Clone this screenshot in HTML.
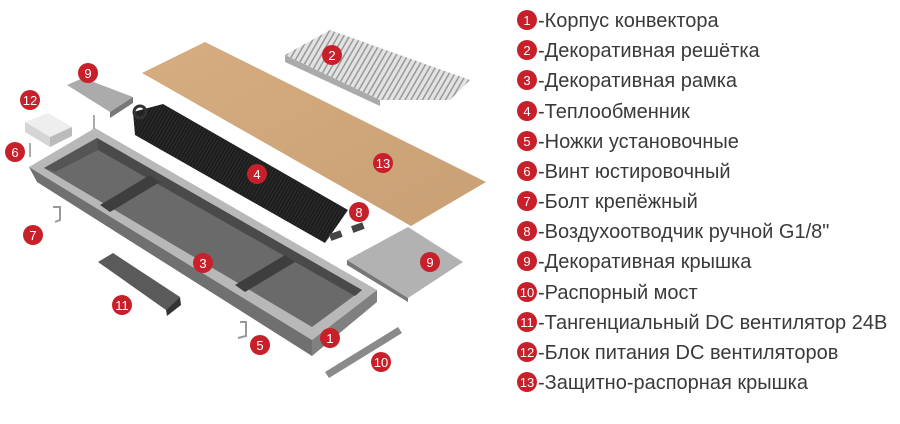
<!DOCTYPE html>
<html><head><meta charset="utf-8"><style>
html,body{margin:0;padding:0;background:#fff;width:900px;height:424px;overflow:hidden}
svg{display:block}
.b circle{fill:#c8202a}
.b text{fill:#fff;font:13px "Liberation Sans",sans-serif;text-anchor:middle}
.l text{font:20px "Liberation Sans","Noto Sans CJK SC",sans-serif;fill:#3a3a3a}
</style></head><body>
<svg width="900" height="424" viewBox="0 0 900 424">
<defs>
<linearGradient id="wood" x1="0" y1="0" x2="1" y2="1"><stop offset="0" stop-color="#d6ad80"/><stop offset="1" stop-color="#c8a075"/></linearGradient>
<pattern id="gr" width="5" height="5" patternUnits="userSpaceOnUse" patternTransform="rotate(30)"><rect width="5" height="5" fill="#e2e2e2"/><rect width="1.5" height="5" fill="#999"/></pattern>
<pattern id="fins" width="3" height="3" patternUnits="userSpaceOnUse" patternTransform="rotate(30)"><rect width="3" height="3" fill="#1c1c1c"/><rect width="1" height="3" fill="#2e2e2e"/></pattern>
</defs>
<!-- grille 2 -->
<polygon points="285,55 330,30 470,80 450,100 380,100" fill="url(#gr)"/>
<polygon points="285,55 380,100 380,106 285,62" fill="#aaa"/>
<!-- wood 13 -->
<polygon points="142,73 205,42 486,182 411,226" fill="url(#wood)"/>
<!-- cover 9 small -->
<polygon points="67,85 83,78 133,97 110,112" fill="#ababab"/>
<polygon points="110,112 133,97 133,103 110,118" fill="#777"/>
<!-- box 12 -->
<polygon points="25,122 48,113 72,127 50,137" fill="#eee"/>
<polygon points="25,122 50,137 50,147 25,132" fill="#d5d5d5"/>
<polygon points="50,137 72,127 72,136 50,147" fill="#bbb"/>
<!-- housing -->
<polygon points="29,167 95,128 377,290 312,340" fill="#b8b8b8"/>
<polygon points="29,167 312,340 312,356 37,182" fill="#707070"/>
<polygon points="312,340 377,290 377,302 312,356" fill="#808080"/>
<polygon points="44,168 97,138 362,290 312,327" fill="#6a6a6a"/>
<polygon points="97,138 362,290 355,296 98,150" fill="#4a4a4a"/>
<polygon points="44,168 97,138 98,150 55,172" fill="#555"/>
<polygon points="100,205 150,175 160,182 110,212" fill="#3e3e3e"/>
<polygon points="235,285 285,255 295,262 245,292" fill="#3e3e3e"/>
<!-- heat exchanger 4 -->
<polygon points="133,112 163,104 348,210 325,243 135,135" fill="url(#fins)"/>
<circle cx="140" cy="112" r="6" fill="none" stroke="#333" stroke-width="3"/>
<rect x="330" y="232" width="12" height="7" fill="#444" transform="rotate(-20 336 236)"/>
<rect x="352" y="224" width="12" height="7" fill="#444" transform="rotate(-20 358 228)"/>
<!-- cover 9 big -->
<polygon points="347,260 408,227 463,262 408,298" fill="#b2b2b2"/>
<polygon points="347,260 408,298 408,302 347,265" fill="#777"/>
<!-- fan 11 -->
<polygon points="98,262 113,253 180,297 166,310" fill="#5a5a5a"/>
<polygon points="166,310 180,297 181,305 167,316" fill="#333"/>
<!-- bar 10 -->
<polygon points="325,372 398,327 402,333 329,378" fill="#8a8a8a"/>
<!-- small bits -->
<rect x="93" y="115" width="2" height="14" fill="#aaa"/>
<rect x="29" y="143" width="2" height="14" fill="#aaa"/>
<polyline points="53,207 60,207 60,220 55,222" fill="none" stroke="#999" stroke-width="2"/>
<polyline points="240,322 246,322 246,336 238,338" fill="none" stroke="#999" stroke-width="2"/>
<!-- badges -->
<g class="b">
<circle cx="330" cy="338" r="10"/><text x="330" y="343">1</text>
<circle cx="332" cy="55" r="10"/><text x="332" y="60">2</text>
<circle cx="203" cy="263" r="10"/><text x="203" y="268">3</text>
<circle cx="257" cy="174" r="10"/><text x="257" y="179">4</text>
<circle cx="260" cy="345" r="10"/><text x="260" y="350">5</text>
<circle cx="15" cy="152" r="10"/><text x="15" y="157">6</text>
<circle cx="33" cy="235" r="10"/><text x="33" y="240">7</text>
<circle cx="359" cy="212" r="10"/><text x="359" y="217">8</text>
<circle cx="88" cy="73" r="10"/><text x="88" y="78">9</text>
<circle cx="430" cy="262" r="10"/><text x="430" y="267">9</text>
<circle cx="381" cy="362" r="10"/><text x="381" y="367">10</text>
<circle cx="122" cy="305" r="10"/><text x="122" y="310">11</text>
<circle cx="30" cy="100" r="10"/><text x="30" y="105">12</text>
<circle cx="383" cy="163" r="10"/><text x="383" y="168">13</text>
</g>
<!-- legend -->
<g class="b">
<circle cx="527" cy="20" r="10"/><text x="527" y="25">1</text>
<circle cx="527" cy="50" r="10"/><text x="527" y="55">2</text>
<circle cx="527" cy="80" r="10"/><text x="527" y="85">3</text>
<circle cx="527" cy="111" r="10"/><text x="527" y="116">4</text>
<circle cx="527" cy="141" r="10"/><text x="527" y="146">5</text>
<circle cx="527" cy="171" r="10"/><text x="527" y="176">6</text>
<circle cx="527" cy="201" r="10"/><text x="527" y="206">7</text>
<circle cx="527" cy="231" r="10"/><text x="527" y="236">8</text>
<circle cx="527" cy="261" r="10"/><text x="527" y="266">9</text>
<circle cx="527" cy="292" r="10"/><text x="527" y="297">10</text>
<circle cx="527" cy="322" r="10"/><text x="527" y="327">11</text>
<circle cx="527" cy="352" r="10"/><text x="527" y="357">12</text>
<circle cx="527" cy="382" r="10"/><text x="527" y="387">13</text>
</g>
<g class="l">
<text x="538" y="27">-Корпус конвектора</text>
<text x="538" y="57">-Декоративная решётка</text>
<text x="538" y="87">-Декоративная рамка</text>
<text x="538" y="118">-Теплообменник</text>
<text x="538" y="148">-Ножки установочные</text>
<text x="538" y="178">-Винт юстировочный</text>
<text x="538" y="208">-Болт крепёжный</text>
<text x="538" y="238">-Воздухоотводчик ручной G1/8"</text>
<text x="538" y="268">-Декоративная крышка</text>
<text x="538" y="299">-Распорный мост</text>
<text x="538" y="329">-Тангенциальный DC вентилятор 24В</text>
<text x="538" y="359">-Блок питания DC вентиляторов</text>
<text x="538" y="389">-Защитно-распорная крышка</text>
</g>
</svg>
</body></html>
